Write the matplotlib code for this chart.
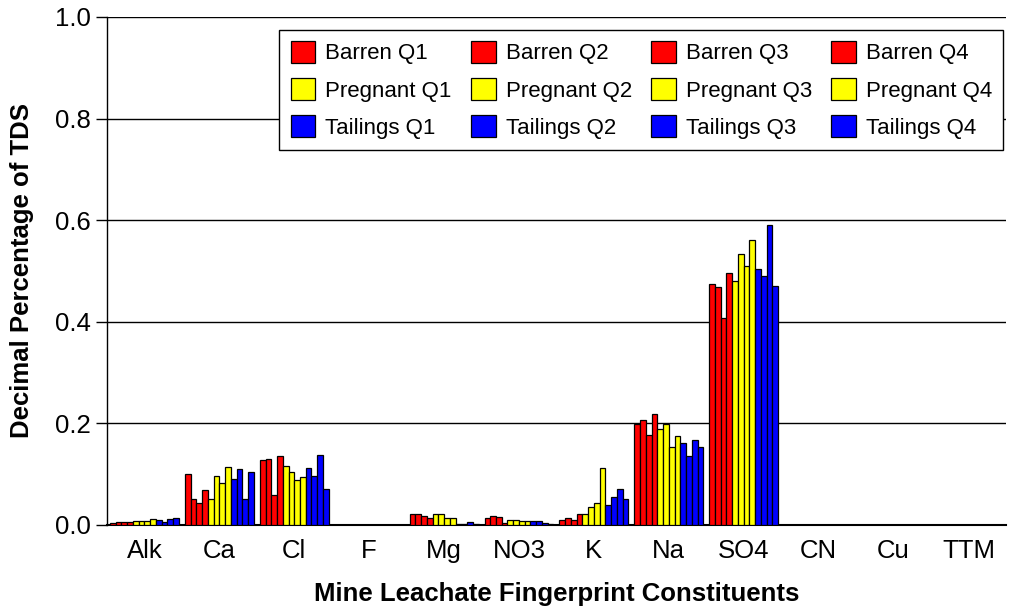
import matplotlib
matplotlib.use("Agg")
import matplotlib.pyplot as plt
import numpy as np

plt.rcParams['font.family'] = ['Liberation Sans', 'DejaVu Sans']

categories = ["Alk", "Ca", "Cl", "F", "Mg", "NO3", "K", "Na", "SO4", "CN", "Cu", "TTM"]
series_names = ["Barren Q1", "Barren Q2", "Barren Q3", "Barren Q4",
                "Pregnant Q1", "Pregnant Q2", "Pregnant Q3", "Pregnant Q4",
                "Tailings Q1", "Tailings Q2", "Tailings Q3", "Tailings Q4"]
series_colors = ["#FF0000"] * 4 + ["#FFFF00"] * 4 + ["#0000FF"] * 4

# values per category (12 series each, order as series_names)
alk = [0.004, 0.006, 0.006, 0.006, 0.008, 0.008, 0.008, 0.011, 0.010, 0.006, 0.012, 0.014]
ca  = [0.101, 0.052, 0.043, 0.069, 0.051, 0.096, 0.083, 0.115, 0.091, 0.110, 0.052, 0.104]
cl  = [0.128, 0.129, 0.059, 0.135, 0.116, 0.104, 0.089, 0.095, 0.112, 0.096, 0.138, 0.070]
f   = [0.0] * 12
mg  = [0.022, 0.022, 0.018, 0.014, 0.022, 0.021, 0.014, 0.014, 0.002, 0.002, 0.006, 0.002]
no3 = [0.014, 0.018, 0.016, 0.004, 0.010, 0.010, 0.007, 0.007, 0.007, 0.007, 0.004, 0.002]
k   = [0.010, 0.014, 0.010, 0.022, 0.022, 0.035, 0.044, 0.112, 0.040, 0.056, 0.070, 0.052]
na  = [0.199, 0.207, 0.177, 0.219, 0.188, 0.198, 0.153, 0.176, 0.161, 0.136, 0.167, 0.153]
so4 = [0.474, 0.468, 0.407, 0.497, 0.480, 0.533, 0.510, 0.560, 0.504, 0.491, 0.591, 0.470]
cn  = [0.0] * 12
cu  = [0.0] * 12
ttm = [0.0] * 12

data = np.array([alk, ca, cl, f, mg, no3, k, na, so4, cn, cu, ttm])

fig = plt.figure(figsize=(10.13, 6.11), dpi=100)
ax = fig.add_axes([0.1056, 0.1408, 0.8874, 0.8314])

n_cat = len(categories)
n_ser = len(series_names)
group_w = 0.92
bw = group_w / n_ser
x = np.arange(n_cat)
handles = []
for i in range(n_ser):
    offs = -group_w / 2 + bw * (i + 0.5)
    b = ax.bar(x + offs, data[:, i], width=bw, color=series_colors[i],
               edgecolor="black", linewidth=0.9, label=series_names[i], zorder=3)
    handles.append(b)

ax.set_xlim(-0.5, n_cat - 0.5)
ax.set_ylim(0, 1.0)
ax.set_yticks([0.0, 0.2, 0.4, 0.6, 0.8, 1.0])
ax.set_yticklabels(["0.0", "0.2", "0.4", "0.6", "0.8", "1.0"])
ax.set_xticks(x)
ax.set_xticklabels(categories)
ax.tick_params(axis='x', length=0, labelsize=18.5, pad=10)
ax.tick_params(axis='y', length=8, width=1, labelsize=18.5, pad=3.5, direction='out')
ax.yaxis.grid(True, color='black', linewidth=1, zorder=0)
ax.set_axisbelow(True)
for s in ["top", "right"]:
    ax.spines[s].set_visible(False)
ax.spines["left"].set_linewidth(1)
ax.spines["bottom"].set_linewidth(1.5)

ax.set_ylabel("Decimal Percentage of TDS", fontsize=18.5, fontweight='bold', labelpad=15)
ax.set_xlabel("Mine Leachate Fingerprint Constituents", fontsize=18.5, fontweight='bold', labelpad=14)

# legend filled row-wise: reorder for column-wise fill
order = []
for c in range(4):
    for r in range(3):
        order.append(r * 4 + c)
leg = ax.legend([handles[j] for j in order], [series_names[j] for j in order],
                ncol=4, loc='upper right', bbox_to_anchor=(1003 / 1013, 1 - 30 / 611),
                bbox_transform=fig.transFigure, borderaxespad=0,
                fontsize=16, frameon=True, fancybox=False, framealpha=1,
                edgecolor='black', handlelength=1.12, handleheight=1.12,
                handletextpad=0.45, columnspacing=0.85, labelspacing=0.62,
                borderpad=0.5)
leg.get_frame().set_linewidth(1)

fig.savefig("out.png", dpi=100)
